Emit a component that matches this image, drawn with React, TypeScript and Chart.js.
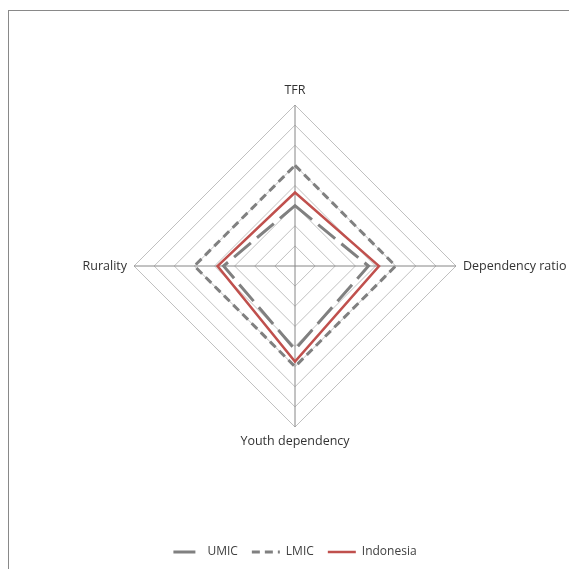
import React, { useEffect, useRef } from "react";
import { Chart, registerables } from "chart.js";

Chart.register(...registerables);

const categories = ["TFR", "Dependency ratio", "Youth dependency", "Rurality"];
const umic = [0.6, 0.73, 0.83, 0.71];
const lmic = [1.0, 1.0, 1.0, 1.0];
const indonesia = [0.73, 0.835, 0.95, 0.77];
const scaleMax = 1.6;
const scaleStep = 0.2;

const FONT = "'Open Sans', sans-serif";

export default function App() {
  const ref = useRef<HTMLCanvasElement>(null);

  useEffect(() => {
    if (!ref.current) return;
    const chart = new Chart(ref.current, {
      type: "radar",
      data: {
        labels: categories,
        datasets: [
          {
            label: "UMIC",
            data: umic,
            borderColor: "#808080",
            borderWidth: 3,
            borderDash: [22, 8],
            fill: false,
            pointRadius: 0,
            order: 1,
          },
          {
            label: "LMIC",
            data: lmic,
            borderColor: "#808080",
            borderWidth: 3,
            borderDash: [8, 5],
            fill: false,
            pointRadius: 0,
            order: 2,
          },
          {
            label: "Indonesia",
            data: indonesia,
            borderColor: "#c0504d",
            borderWidth: 2.5,
            fill: false,
            pointRadius: 0,
            order: 0,
          },
        ],
      },
      options: {
        responsive: false,
        animation: false,
        layout: { padding: { left: 1, right: 51, top: 83, bottom: 1 } },
        plugins: {
          tooltip: { enabled: false },
          legend: {
            position: "bottom",
            title: {
              display: true,
              text: "",
              font: { size: 1 },
              padding: { top: 0, bottom: 80, left: 0, right: 0 },
            },
            labels: {
              usePointStyle: true,
              pointStyle: "line",
              pointStyleWidth: 28,
              padding: 14,
              color: "#404040",
              font: { family: FONT, size: 12 },
              sort: (a: any, b: any) => a.datasetIndex - b.datasetIndex,
              generateLabels: (c: any) => {
                const items = Chart.defaults.plugins.legend.labels.generateLabels(c);
                return items.map((it: any) => {
                  const ds: any = c.data.datasets[it.datasetIndex];
                  return { ...it, lineDash: ds.borderDash || [], lineWidth: ds.borderWidth };
                });
              },
            },
          },
        },
        scales: {
          r: {
            min: 0,
            max: scaleMax,
            ticks: { stepSize: scaleStep, display: false },
            grid: { color: "#c0c0c0", lineWidth: 1 },
            angleLines: { color: "#868686", lineWidth: 1 },
            pointLabels: {
              color: "#333333",
              padding: 7,
              font: { family: FONT, size: 12.5 },
            },
          },
        },
      },
    });
    return () => chart.destroy();
  }, []);

  return (
    <div
      style={{
        position: "fixed",
        left: 0,
        top: 0,
        width: 569,
        height: 569,
        overflow: "hidden",
        background: "#ffffff",
      }}
    >
      <div
        style={{
          position: "absolute",
          left: 8,
          top: 10,
          width: 700,
          height: 700,
          borderLeft: "1px solid #898989",
          borderTop: "1px solid #898989",
        }}
      />
      <canvas
        ref={ref}
        width={680}
        height={569}
        style={{ position: "absolute", left: -20, top: 0, width: 680, height: 569 }}
      />
    </div>
  );
}
